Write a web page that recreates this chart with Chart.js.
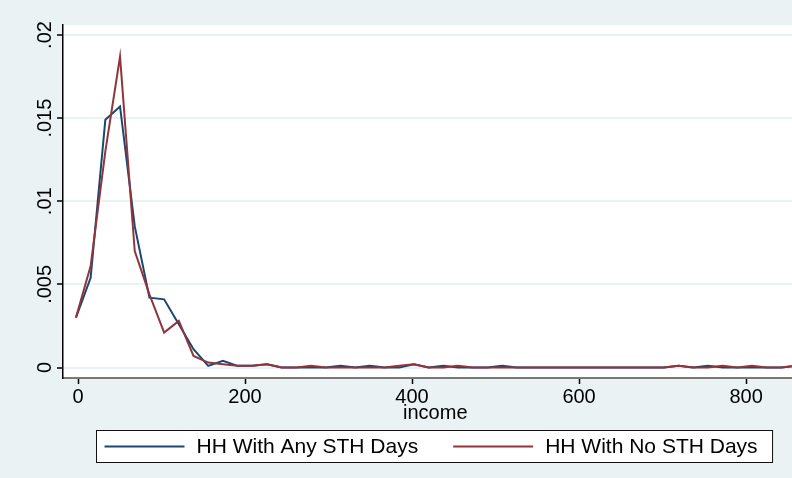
<!DOCTYPE html>
<html>
<head>
<meta charset="utf-8">
<script src="https://cdn.jsdelivr.net/npm/chart.js@4/dist/chart.umd.min.js"></script>
<style>
    html, body { margin: 0; padding: 0; background: #eaf2f3; }
    #wrap { width: 792px; height: 478px; }
</style>
</head>
<body>
<div id="wrap"><canvas id="chart" width="792" height="478"></canvas></div>
<script>
// Income bins (x) and densities
const income = [-2.5, 15.1, 32.7, 50.3, 67.9, 85.5, 103.1, 120.7, 138.3, 155.9,
    173.5, 191.1, 208.7, 226.3, 243.9, 261.5, 279.1, 296.7, 314.3, 331.9,
    349.5, 367.1, 384.7, 402.3, 419.9, 437.5, 455.1, 472.7, 490.3, 507.9,
    525.5, 543.1, 560.7, 578.3, 595.9, 613.5, 631.1, 648.7, 666.3, 683.9,
    701.5, 719.1, 736.7, 754.3, 771.9, 789.5, 807.1, 824.7, 842.3, 859.9];

const anySTH = [0.0030, 0.0054, 0.0149, 0.0157, 0.0085, 0.0042, 0.0041, 0.0026, 0.0011, 0.0001,
    0.0004, 0.0001, 0.0001, 0.0002, 0.0000, 0.0000, 0.0000, 0.0000, 0.0001, 0.0000,
    0.0001, 0.0000, 0.0000, 0.0002, 0.0000, 0.0001, 0.0000, 0.0000, 0.0000, 0.0001,
    0.0000, 0.0000, 0.0000, 0.0000, 0.0000, 0.0000, 0.0000, 0.0000, 0.0000, 0.0000,
    0.0000, 0.0001, 0.0000, 0.0001, 0.0000, 0.0000, 0.0000, 0.0000, 0.0000, 0.0001];

const noSTH = [0.0030, 0.0061, 0.0130, 0.0187, 0.0070, 0.0044, 0.0021, 0.0028, 0.0007, 0.0003,
    0.0002, 0.0001, 0.0001, 0.0002, 0.0000, 0.0000, 0.0001, 0.0000, 0.0000, 0.0000,
    0.0000, 0.0000, 0.0001, 0.0002, 0.0000, 0.0000, 0.0001, 0.0000, 0.0000, 0.0000,
    0.0000, 0.0000, 0.0000, 0.0000, 0.0000, 0.0000, 0.0000, 0.0000, 0.0000, 0.0000,
    0.0000, 0.0001, 0.0000, 0.0000, 0.0001, 0.0000, 0.0001, 0.0000, 0.0000, 0.0001];

const xTicks = [0, 200, 400, 600, 800];
const yTicks = [0, 0.005, 0.01, 0.015, 0.02];
const yTickLabels = ['0', '.005', '.01', '.015', '.02'];

const FONT = '"Liberation Sans", Arial, sans-serif';
const navy = '#1a476f';
const maroon = '#90353b';

const toPoints = ys => ys.map((y, i) => ({ x: income[i], y: y }));

// White plot region on the grey-blue page
const plotBg = {
    id: 'plotBg',
    beforeDraw(chart) {
        const { ctx, chartArea: a } = chart;
        ctx.save();
        ctx.fillStyle = '#ffffff';
        ctx.fillRect(a.left, a.top, a.right - a.left, a.bottom - a.top);
        ctx.restore();
    }
};

// Stata style boxed legend below the axis title
const boxLegend = {
    id: 'boxLegend',
    afterDraw(chart) {
        const ctx = chart.ctx;
        const sets = chart.data.datasets;
        const lineLen = 80, gap = 12, itemGap = 35, padL = 8, padR = 15;
        ctx.save();
        ctx.font = '21px ' + FONT;
        const widths = sets.map(d => ctx.measureText(d.label).width);
        let total = padL + padR + itemGap * (sets.length - 1);
        widths.forEach(w => { total += lineLen + gap + w; });
        const a = chart.chartArea;
        const left = Math.round((a.left + a.right) / 2 + 7 - total / 2) + 0.5;
        const top = chart.scales.x.bottom + 5.5;
        const h = 32;
        ctx.fillStyle = '#ffffff';
        ctx.fillRect(left, top, total, h);
        ctx.strokeStyle = '#111';
        ctx.lineWidth = 1;
        ctx.strokeRect(left, top, total, h);
        let x = left + padL;
        const cy = top + h / 2;
        sets.forEach((d, i) => {
            ctx.strokeStyle = d.borderColor;
            ctx.lineWidth = 2;
            ctx.beginPath();
            ctx.moveTo(x, cy);
            ctx.lineTo(x + lineLen, cy);
            ctx.stroke();
            x += lineLen + gap;
            ctx.fillStyle = '#000';
            ctx.textBaseline = 'middle';
            ctx.fillText(d.label, x, cy + 1);
            x += widths[i] + itemGap;
        });
        ctx.restore();
    }
};

new Chart(document.getElementById('chart'), {
    type: 'line',
    data: {
        datasets: [
            {
                label: 'HH With Any STH Days',
                data: toPoints(anySTH),
                borderColor: navy,
                borderWidth: 2,
                pointRadius: 0,
                tension: 0,
                order: 1
            },
            {
                label: 'HH With No STH Days',
                data: toPoints(noSTH),
                borderColor: maroon,
                borderWidth: 2,
                pointRadius: 0,
                tension: 0,
                order: 0
            }
        ]
    },
    options: {
        responsive: false,
        animation: false,
        layout: { padding: { top: 25, right: 0, bottom: 53, left: 0 } },
        plugins: {
            legend: { display: false },
            tooltip: { enabled: false }
        },
        scales: {
            x: {
                type: 'linear',
                min: -18,
                max: 855,
                afterBuildTicks: s => { s.ticks = xTicks.map(v => ({ value: v })); },
                afterFit: s => { s.height = 47; },
                ticks: {
                    font: { family: FONT, size: 20 },
                    color: '#000',
                    padding: 1,
                    maxRotation: 0,
                    callback: v => String(v)
                },
                grid: {
                    drawOnChartArea: false,
                    drawTicks: true,
                    tickLength: 6,
                    tickColor: '#000',
                    tickWidth: 1.5
                },
                border: { color: '#777', width: 2 },
                title: {
                    display: true,
                    // leading en space nudges the title to the graph centre, as Stata does
                    text: '\u2002 income',
                    font: { family: FONT, size: 20 },
                    color: '#000',
                    padding: 0
                }
            },
            y: {
                min: -0.00063,
                max: 0.0206,
                afterBuildTicks: s => { s.ticks = yTicks.map(v => ({ value: v })); },
                afterFit: s => { s.width = 63; },
                ticks: {
                    font: { family: FONT, size: 20 },
                    color: '#000',
                    minRotation: 90,
                    maxRotation: 90,
                    crossAlign: 'center',
                    padding: -8,
                    callback: v => yTickLabels[yTicks.indexOf(v)]
                },
                grid: {
                    color: '#eaf2f3',
                    lineWidth: 2,
                    drawTicks: true,
                    tickLength: 6,
                    tickColor: '#000',
                    tickWidth: 1.5
                },
                border: { color: '#000', width: 1.5 }
            }
        }
    },
    plugins: [plotBg, boxLegend]
});
</script>
</body>
</html>
